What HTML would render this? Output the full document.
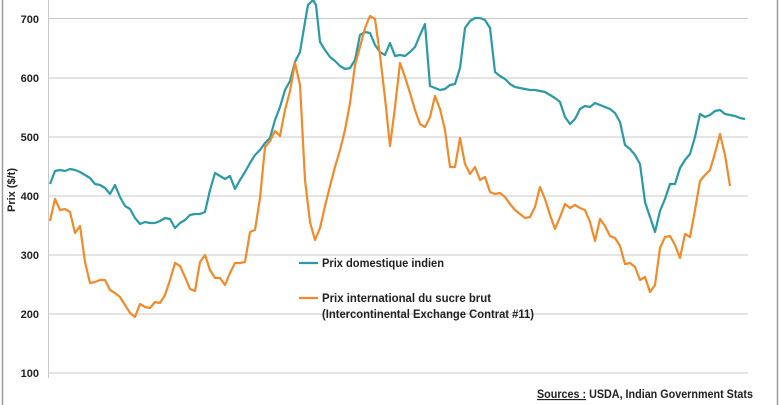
<!DOCTYPE html>
<html><head><meta charset="utf-8"><style>
html,body{margin:0;padding:0;background:#fff}
svg{display:block;font-family:"Liberation Sans",sans-serif}
</style></head><body>
<svg width="780" height="405" viewBox="0 0 780 405">
<rect x="0" y="0" width="780" height="405" fill="#fff"/>
<line x1="2.5" y1="0" x2="2.5" y2="405" stroke="#9a9a9a" stroke-width="1.5"/>
<line x1="777.5" y1="0" x2="777.5" y2="405" stroke="#9a9a9a" stroke-width="1.5"/>
<g stroke="#c8c8c8" stroke-width="1">
<line x1="48" y1="18.5" x2="748" y2="18.5"/>
<line x1="48" y1="78" x2="748" y2="78"/>
<line x1="48" y1="137" x2="748" y2="137"/>
<line x1="48" y1="196" x2="748" y2="196"/>
<line x1="48" y1="255" x2="748" y2="255"/>
<line x1="48" y1="314" x2="748" y2="314"/>
<line x1="48" y1="373" x2="748" y2="373"/>
<line x1="48.5" y1="0" x2="48.5" y2="378"/>
</g>
<g font-size="11" font-weight="bold" fill="#222" text-anchor="end">
<text x="39" y="23">700</text><text x="39" y="82">600</text><text x="39" y="141">500</text>
<text x="39" y="200">400</text><text x="39" y="259">300</text><text x="39" y="318">200</text><text x="39" y="377">100</text>
</g>
<text transform="translate(15,190) rotate(-90)" font-size="11" font-weight="bold" fill="#222" text-anchor="middle">Prix ($/t)</text>
<polyline fill="none" stroke="#2a9aa4" stroke-width="2.2" stroke-linejoin="round" points="50,184 55,171 60,170 65,171 70,169 75,170 80,172 85,175 90,178 95,184 100,185 105,188 110,194 115,185 120,197 125,206 130,209 135,218 140,224 145,222 150,223 155,223 160,221 165,218 170,219 175,228 180,223 185,220 190,215 195,214 200,214 205,212 210,190 215,173 220,176 225,179 230,176 235,189 240,180 245,172 250,163 255,155 260,150 265,143 270,138 275,120 280,107 285,90 290,81 295,62 300,52 305,22 308,5 313,0 316,5 320,42 325,50 330,57 335,61 340,66 345,69 350,68 355,60 360,35 365,32 370,33 375,45 380,52 385,55 390,43 395,56 400,55 405,56 410,52 415,47 420,35 425,24 430,86 435,88 440,90 445,89 450,85 455,84 460,68 465,28 470,21 475,18 480,18 485,20 490,28 495,72 500,76 505,79 510,84 515,87 520,88 525,89 530,90 535,90 540,91 545,92 550,95 555,98 560,102 565,117 570,124 575,119 580,109 585,106 590,107 595,103 600,105 605,107 610,109 615,113 620,122 625,145 630,149 635,155 640,164 645,202 650,217 655,232 660,211 665,199 670,184 675,184 680,168 685,160 690,154 695,137 700,114 705,117 710,115 715,111 720,110 725,114 730,115 735,116 740,118 745,119"/>
<polyline fill="none" stroke="#f28a2a" stroke-width="2.2" stroke-linejoin="round" points="50,221 55,199 60,210 65,209 70,212 75,233 80,226 85,262 90,283 95,282 100,280 105,280 110,290 115,293 120,297 125,305 130,313 135,317 140,304 145,307 150,308 155,302 160,303 165,295 170,280 175,263 180,266 185,277 190,289 195,291 200,262 205,255 210,270 215,278 220,278 225,285 230,273 235,263 240,263 245,262 250,232 255,230 260,198 265,147 270,141 275,131 280,136 285,110 290,91 295,63 300,85 305,180 310,222 315,240 320,228 325,206 330,186 335,167 340,150 345,130 350,103 355,65 360,47 365,28 370,16 375,19 380,55 385,98 390,146 395,107 400,63 405,77 410,93 415,110 420,124 425,127 430,117 435,96 440,109 445,130 450,167 455,167 460,138 465,164 470,174 475,167 480,180 485,177 490,192 495,194 500,193 505,197 510,204 515,210 520,214 525,218 530,217 535,207 540,187 545,199 550,215 555,229 560,217 565,204 570,208 575,205 580,208 585,210 590,222 595,241 600,219 605,226 610,236 615,238 620,246 625,264 630,263 635,267 640,280 645,277 650,292 655,285 660,248 665,237 670,236 675,245 680,258 685,234 690,237 695,210 700,181 705,175 710,170 715,153 720,134 725,155 730,186"/>
<line x1="299" y1="263" x2="318" y2="263" stroke="#2a9aa4" stroke-width="2.2"/>
<line x1="299" y1="298" x2="318" y2="298" stroke="#f28a2a" stroke-width="2.2"/>
<g font-size="11.5" font-weight="bold" fill="#222">
<text x="322" y="267" textLength="122" lengthAdjust="spacingAndGlyphs">Prix domestique indien</text>
<text x="322" y="302" textLength="169" lengthAdjust="spacingAndGlyphs">Prix international du sucre brut</text>
<text x="322" y="318" textLength="212" lengthAdjust="spacingAndGlyphs">(Intercontinental Exchange Contrat #11)</text>
<text x="537" y="398" textLength="216" lengthAdjust="spacingAndGlyphs"><tspan text-decoration="underline">Sources :</tspan> USDA, Indian Government Stats</text>
</g>
</svg>
</body></html>
